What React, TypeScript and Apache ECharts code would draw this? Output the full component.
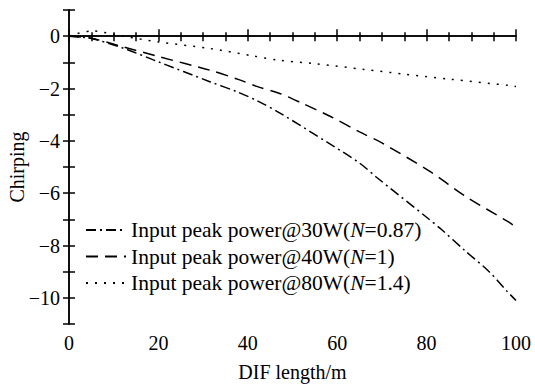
import React, { useEffect, useRef } from "react";
import * as echarts from "echarts";

const seriesNames = [
  "Input peak power@30W(N=0.87)",
  "Input peak power@40W(N=1)",
  "Input peak power@80W(N=1.4)",
];
const legendParts: Record<string, [string, string]> = {
  "Input peak power@30W(N=0.87)": ["Input peak power@30W(", "=0.87)"],
  "Input peak power@40W(N=1)": ["Input peak power@40W(", "=1)"],
  "Input peak power@80W(N=1.4)": ["Input peak power@80W(", "=1.4)"],
};

const x30 = [0, 5, 12, 20, 31.5, 37.5, 42, 47, 58, 65, 69, 80, 83.4, 88.6, 94, 98, 100];
const y30 = [0, -0.09, -0.45, -0.98, -1.74, -2.12, -2.46, -2.92, -4.08, -4.85, -5.42, -6.92, -7.4, -8.2, -9.0, -9.75, -10.1];

const x40 = [0, 5, 12, 20, 31.5, 38, 42, 47, 52, 58.5, 65, 70, 81, 88.5, 98.5, 100];
const y40 = [0, -0.08, -0.4, -0.78, -1.3, -1.66, -1.92, -2.18, -2.55, -3.07, -3.66, -4.08, -5.2, -6.1, -7.12, -7.3];

const x80 = [0, 5, 12, 20, 31.5, 41, 47, 55, 66, 75, 85, 99.3, 100];
const y80 = [0, 0.2, 0, -0.22, -0.47, -0.75, -0.92, -1.05, -1.27, -1.45, -1.64, -1.9, -1.92];

const FONT = "Liberation Serif";
const FS = 20;
const LFS = 21.5;

function pairs(xs: number[], ys: number[]) {
  return xs.map((x, i) => [x, ys[i]]);
}

export default function App() {
  const ref = useRef<HTMLDivElement>(null);
  useEffect(() => {
    const chart = echarts.init(ref.current!, undefined, { renderer: "svg" });
    const lineTypes: any[] = [[10, 4, 2, 4], [12, 7], [2, 7]];
    const datasets = [pairs(x30, y30), pairs(x40, y40), pairs(x80, y80)];
    const axisCommon = {
      axisLine: { show: true, lineStyle: { color: "#000", width: 1.5 } },
      splitLine: { show: false },
    };
    chart.setOption({
      animation: false,
      backgroundColor: "#fff",
      grid: { left: 69, right: 19, top: 10, bottom: 62, containLabel: false, outerBoundsMode: "none" },
      legend: {
        orient: "vertical",
        left: 80,
        top: 214,
        padding: 5,
        itemWidth: 40,
        itemHeight: 14,
        itemGap: 4.5,
        itemStyle: { opacity: 0 },
        data: seriesNames,
        formatter: (name: string) => {
          const p = legendParts[name];
          return `{a|${p[0]}}{i|N}{a|${p[1]}}`;
        },
        textStyle: {
          fontFamily: FONT,
          fontSize: LFS,
          color: "#000",
          lineHeight: 22,
          rich: {
            a: { fontFamily: FONT, fontSize: LFS, color: "#000", lineHeight: 22 },
            i: { fontFamily: FONT, fontSize: LFS, color: "#000", fontStyle: "italic", lineHeight: 22 },
          },
        },
      },
      xAxis: [
        {
          type: "value",
          min: 0,
          max: 100,
          interval: 20,
          position: "bottom",
          name: "DIF length/m",
          nameLocation: "middle",
          nameGap: 38,
          nameMoveOverlap: false,
          nameTextStyle: { fontFamily: FONT, fontSize: FS, color: "#000" },
          axisLabel: { fontFamily: FONT, fontSize: FS, color: "#000", margin: 9 },
          axisTick: { inside: true, length: 7, lineStyle: { color: "#000", width: 1.5 } },
          minorTick: { show: true, splitNumber: 4, length: 4, lineStyle: { color: "#000", width: 1.5 } },
          ...axisCommon,
        },
        {
          type: "value",
          min: 0,
          max: 100,
          interval: 5,
          position: "top",
          axisLabel: { show: false },
          axisTick: { inside: true, length: 5, lineStyle: { color: "#000", width: 1.5 } },
          ...axisCommon,
        },
      ],
      yAxis: [
        {
          type: "value",
          min: -11,
          max: 1,
          interval: 1,
          position: "left",
          name: "Chirping",
          nameLocation: "middle",
          nameGap: 42,
          nameMoveOverlap: false,
          nameTextStyle: { fontFamily: FONT, fontSize: FS, color: "#000" },
          axisLabel: {
            fontFamily: FONT,
            fontSize: FS,
            color: "#000",
            margin: 9,
            formatter: (v: number) =>
              Math.abs(v) % 2 === 0 ? (v < 0 ? "\u2212" + Math.abs(v) : String(v)) : "",
          },
          axisTick: { inside: true, length: 6, lineStyle: { color: "#000", width: 1.5 } },
          ...axisCommon,
        },
        {
          type: "value",
          min: -11,
          max: 1,
          interval: 1,
          position: "right",
          axisLabel: { show: false },
          axisTick: { inside: true, length: 6, lineStyle: { color: "#000", width: 1.5 } },
          ...axisCommon,
        },
      ],
      series: seriesNames.map((name, i) => ({
        name,
        type: "line",
        xAxisIndex: 0,
        yAxisIndex: 0,
        data: datasets[i],
        smooth: 0.3,
        symbol: "none",
        showSymbol: false,
        lineStyle: { color: "#000", width: 1.5, type: lineTypes[i] },
        itemStyle: { color: "#000" },
      })),
    });
    return () => chart.dispose();
  }, []);
  return <div ref={ref} style={{ width: 535, height: 386, position: "absolute", left: 0, top: 0 }} />;
}
